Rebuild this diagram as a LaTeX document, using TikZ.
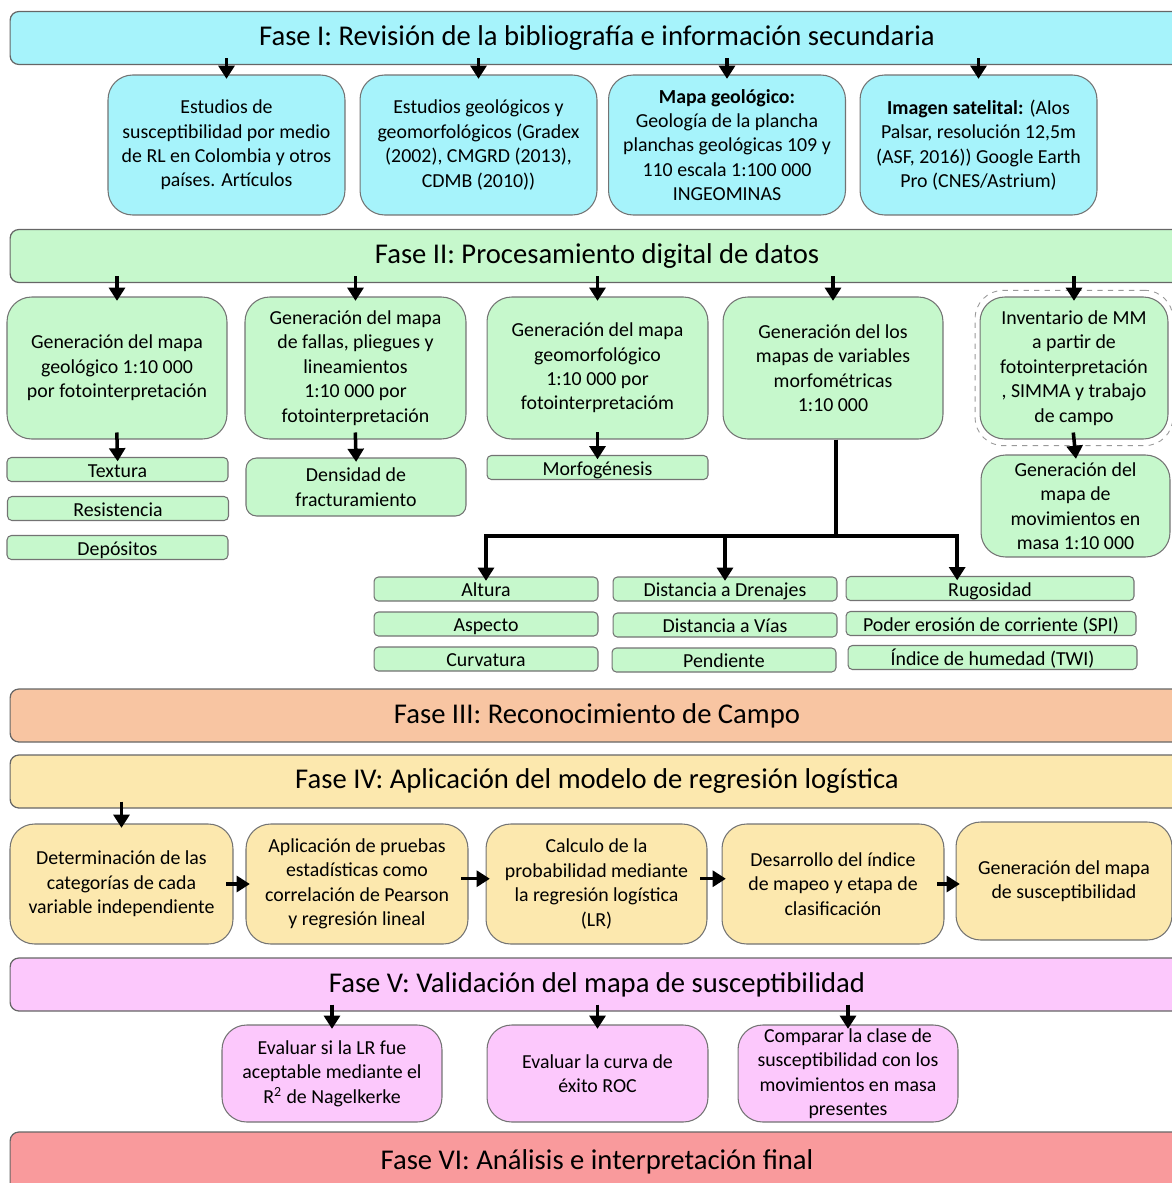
\documentclass[tikz,border=0pt]{standalone}
\usepackage{fontspec}
\setmainfont{Carlito}
\usetikzlibrary{arrows.meta,fit}

\definecolor{cian}{RGB}{166,243,251}
\definecolor{verde}{RGB}{198,248,204}
\definecolor{salmon}{RGB}{248,197,162}
\definecolor{crema}{RGB}{252,232,174}
\definecolor{rosa}{RGB}{252,200,252}
\definecolor{rojo}{RGB}{249,154,156}

\tikzset{
  fase/.style={draw=black!60, line width=0.7pt, rounded corners=5pt, inner sep=0pt,
    minimum width=23.48cm, minimum height=1.06cm, font=\fontsize{16.3}{19}\selectfont},
  caja/.style={draw=black!55, line width=0.6pt, rounded corners=14pt, align=center,
    inner sep=0pt, font=\fontsize{11.3}{13.9}\selectfont},
  chica/.style={draw=black!55, line width=0.6pt, rounded corners=2.5pt,
    inner sep=0pt, minimum height=0.48cm, text height=11pt, text depth=2pt,
    fill=verde, font=\fontsize{11.3}{13.9}\selectfont},
  marco/.style={draw=black!40, dashed, line width=0.5pt, rounded corners=16pt,
    inner xsep=2.5pt, inner ysep=3.5pt},
  flecha/.style={-{Triangle[length=7.5pt,width=9pt]}, line width=2pt,
    shorten <=-4pt, shorten >=-2.5pt},
  linea/.style={line width=2pt}
}

\begin{document}
\begin{tikzpicture}[x=0.02cm, y=-0.02cm]
\useasboundingbox (0,0) rectangle (1172,1183);

% Fase I
\node[fase, fill=cian] (f1) at (597,38) {Fase I: Revisión de la bibliografía e información secundaria};
\node[caja, fill=cian, minimum width=4.74cm, minimum height=2.8cm] (b1) at (226.5,145)
  {Estudios de\\susceptibilidad por medio\\de RL en Colombia y otros\\países. Artículos};
\node[caja, fill=cian, minimum width=4.74cm, minimum height=2.8cm] (b2) at (478.5,145)
  {Estudios geológicos y\\geomorfológicos (Gradex\\(2002), CMGRD (2013),\\CDMB (2010))};
\node[caja, fill=cian, minimum width=4.74cm, minimum height=2.8cm] (b3) at (727,145)
  {\textbf{Mapa geológico:}\\Geología de la plancha\\planchas geológicas 109 y\\110 escala 1:100 000\\INGEOMINAS};
\node[caja, fill=cian, minimum width=4.74cm, minimum height=2.8cm] (b4) at (978.5,145)
  {\textbf{Imagen satelital:} (Alos\\Palsar, resolución 12,5m\\(ASF, 2016)) Google Earth\\Pro (CNES/Astrium)};
\foreach \b in {b1,b2,b3,b4}
  \draw[flecha] (\b.north |- f1.south) -- (\b.north);

% Fase II
\node[fase, fill=verde] (f2) at (597,256) {Fase II: Procesamiento digital de datos};
\node[caja, fill=verde, minimum width=4.4cm, minimum height=2.84cm] (g1) at (117,368)
  {Generación del mapa\\geológico 1:10 000\\por fotointerpretación};
\node[caja, fill=verde, minimum width=4.42cm, minimum height=2.84cm] (g2) at (355.5,368)
  {Generación del mapa\\de fallas, pliegues y\\lineamientos\\1:10 000 por\\fotointerpretación};
\node[caja, fill=verde, minimum width=4.42cm, minimum height=2.84cm] (g3) at (597.5,368)
  {Generación del mapa\\geomorfológico\\1:10 000 por\\fotointerpretacióm};
\node[caja, fill=verde, minimum width=4.4cm, minimum height=2.84cm] (g4) at (833,368)
  {Generación del los\\mapas de variables\\morfométricas\\1:10 000};
\node[caja, fill=verde, minimum width=3.76cm, minimum height=2.84cm] (g5) at (1074,368)
  {Inventario de MM\\a partir de\\fotointerpretación\\, SIMMA y trabajo\\de campo};
\node[marco, fit=(g5)] (g5marco) {};
\foreach \g in {g1,g2,g3,g4,g5}
  \draw[flecha] (\g.north |- f2.south) -- (\g.north);

\node[chica, minimum width=4.42cm] (textura) at (117.5,469.5) {Textura};
\node[chica, minimum width=4.42cm] (resist) at (118,508.5) {Resistencia};
\node[chica, minimum width=4.42cm] (depos) at (117.5,547.5) {Depósitos};
\node[caja, fill=verde, rounded corners=6pt, minimum width=4.4cm, minimum height=1.16cm] (densidad) at (356,487)
  {Densidad de\\fracturamiento};
\node[chica, minimum width=4.42cm] (morfo) at (597.5,467.5) {Morfogénesis};
\node[caja, fill=verde, minimum width=3.78cm, minimum height=2.04cm] (movmasa) at (1075.5,506)
  {Generación del\\mapa de\\movimientos en\\masa 1:10 000};
\draw[flecha] (g1.south) -- (textura.north);
\draw[flecha] (g2.south) -- (densidad.north);
\draw[flecha] (g3.south) -- (morfo.north);
\draw[flecha] (g5.south) -- (movmasa.north);

% variables morfometricas
\node[chica, minimum width=4.48cm] (altura) at (486,589) {Altura};
\node[chica, minimum width=4.48cm] (aspecto) at (486,624) {Aspecto};
\node[chica, minimum width=4.48cm] (curva) at (486,659) {Curvatura};
\node[chica, minimum width=4.48cm] (drenaje) at (725,589) {Distancia a Drenajes};
\node[chica, minimum width=4.48cm] (vias) at (725,625) {Distancia a Vías};
\node[chica, minimum width=4.48cm] (pendiente) at (724,660) {Pendiente};
\node[chica, minimum width=5.76cm] (rugos) at (990,588.5) {Rugosidad};
\node[chica, minimum width=5.8cm] (spi) at (991,623.5) {Poder erosión de corriente (SPI)};
\node[chica, minimum width=5.78cm] (twi) at (992.5,657.5) {Índice de humedad (TWI)};
\coordinate (rama) at (836,536);
\draw[linea] (g4.south -| rama) -- (rama);
\draw[flecha] (rama) -| (altura.north);
\draw[flecha] (rama) -| (drenaje.north);
\draw[flecha] (rama) -| ([xshift=-18.7pt]rugos.north);

% Fase III
\node[fase, fill=salmon] (f3) at (597,715.5) {Fase III: Reconocimiento de Campo};

% Fase IV
\node[fase, fill=crema] (f4) at (597,781.5) {Fase IV: Aplicación del modelo de regresión logística};
\node[caja, fill=crema, minimum width=4.46cm, minimum height=2.4cm] (y1) at (121.5,884)
  {Determinación de las\\categorías de cada\\variable independiente};
\node[caja, fill=crema, minimum width=4.44cm, minimum height=2.4cm] (y2) at (357,884)
  {Aplicación de pruebas\\estadísticas como\\correlación de Pearson\\y regresión lineal};
\node[caja, fill=crema, minimum width=4.42cm, minimum height=2.4cm] (y3) at (596.5,884)
  {Calculo de la\\probabilidad mediante\\la regresión logística\\(LR)};
\node[caja, fill=crema, minimum width=4.44cm, minimum height=2.4cm] (y4) at (833,884)
  {Desarrollo del índice\\de mapeo y etapa de\\clasificación};
\node[caja, fill=crema, minimum width=4.32cm, minimum height=2.36cm] (y5) at (1064,881)
  {Generación del mapa\\de susceptibilidad};
\draw[flecha] (y1.north |- f4.south) -- (y1.north);
\draw[flecha] (y1.east) -- (y2.west);
\draw[flecha] ([yshift=3pt]y2.east) -- ([yshift=3pt]y3.west);
\draw[flecha] ([yshift=3pt]y3.east) -- ([yshift=3pt]y4.west);
\draw[flecha] (y4.east) -- (y5.west |- y4.east);

% Fase V
\node[fase, fill=rosa] (f5) at (597,984.5) {Fase V: Validación del mapa de susceptibilidad};
\node[caja, fill=rosa, minimum width=4.4cm, minimum height=1.94cm] (p1) at (332,1073.5)
  {Evaluar si la LR fue\\aceptable mediante el\\R\textsuperscript{2} de Nagelkerke};
\node[caja, fill=rosa, minimum width=4.42cm, minimum height=1.94cm] (p2) at (597.5,1073.5)
  {Evaluar la curva de\\éxito ROC};
\node[caja, fill=rosa, minimum width=4.4cm, minimum height=1.94cm] (p3) at (848,1073.5)
  {Comparar la clase de\\susceptibilidad con los\\movimientos en masa\\presentes};
\foreach \p in {p1,p2,p3}
  \draw[flecha] (\p.north |- f5.south) -- (\p.north);

% Fase VI
\node[fase, fill=rojo, minimum height=1.2cm] (f6) at (597,1162) {Fase VI: Análisis e interpretación final};
\end{tikzpicture}
\end{document}
